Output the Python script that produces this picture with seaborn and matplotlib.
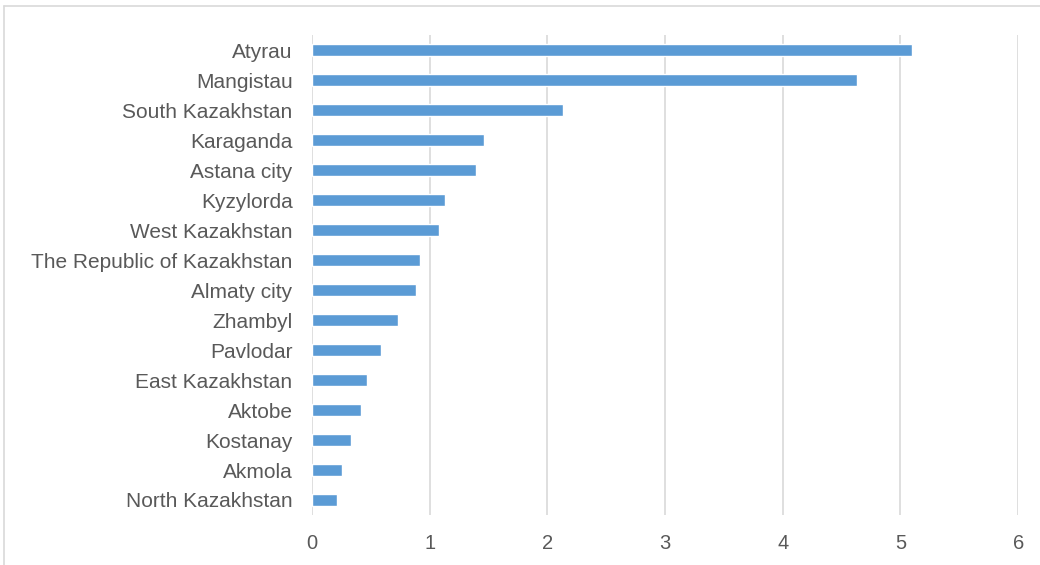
import matplotlib.pyplot as plt
import pandas as pd
import seaborn as sns
from matplotlib.lines import Line2D

REGIONS = [
    "Atyrau", "Mangistau", "South Kazakhstan", "Karaganda", "Astana city",
    "Kyzylorda", "West Kazakhstan", "The Republic of Kazakhstan", "Almaty city",
    "Zhambyl", "Pavlodar", "East Kazakhstan", "Aktobe", "Kostanay", "Akmola",
    "North Kazakhstan",
]
VALUES = [5.10, 4.63, 2.13, 1.46, 1.39, 1.13, 1.08, 0.92, 0.88, 0.73,
          0.59, 0.47, 0.42, 0.33, 0.255, 0.215]
X_TICKS = [0, 1, 2, 3, 4, 5, 6]

sns.set_theme(style="white")
plt.rcParams["font.family"] = ["Liberation Sans", "DejaVu Sans"]

TEXT = "#595959"
GRID = "#D9D9D9"
BAR = "#5B9BD5"

df = pd.DataFrame({"region": REGIONS, "value": VALUES})

fig = plt.figure(figsize=(10.4, 5.65), dpi=100)
ax = fig.add_axes([0.3, 0.0885, 0.679, 0.8495])

sns.barplot(data=df, x="value", y="region", orient="h", color=BAR,
            saturation=1, width=0.37, ax=ax, zorder=3)

ax.set_xlim(0, 6)
ax.set_xticks(X_TICKS)
ax.set_ylim(len(REGIONS) - 0.5, -0.5)
ax.set_xlabel("")
ax.set_ylabel("")
ax.grid(axis="x", color=GRID, linewidth=1.2, zorder=0)
ax.grid(axis="y", visible=False)
for side in ["top", "right", "bottom", "left"]:
    ax.spines[side].set_visible(False)
ax.tick_params(axis="y", length=0, pad=14, labelsize=15, labelcolor=TEXT)
ax.tick_params(axis="x", length=0, pad=14, labelsize=14.5, labelcolor=TEXT)

# outer chart frame (only top and left edges visible in crop)
fig.add_artist(Line2D([4 / 1040, 1], [1 - 6 / 565, 1 - 6 / 565],
                      color=GRID, linewidth=1.2, transform=fig.transFigure))
fig.add_artist(Line2D([4 / 1040, 4 / 1040], [0, 1 - 6 / 565],
                      color=GRID, linewidth=1.2, transform=fig.transFigure))

fig.savefig("out.png", dpi=100)
